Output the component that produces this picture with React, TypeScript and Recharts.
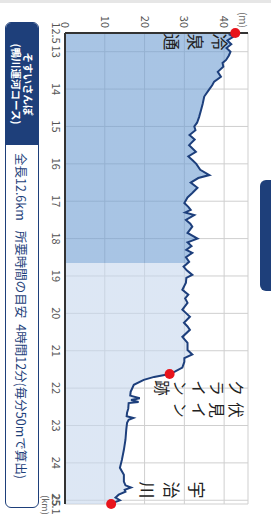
import React from 'react';
import { ComposedChart, Area, Line, XAxis, YAxis, CartesianGrid, ReferenceDot } from 'recharts';

// ---- data ----
const distanceKm = [
  12.5, 12.55, 12.6, 12.7, 12.8, 12.9, 13.0, 13.1, 13.22, 13.3, 13.4, 13.54, 13.67, 13.8, 13.9,
  14.0, 14.2, 14.4, 14.56, 14.75, 14.9, 15.0, 15.1, 15.23, 15.35, 15.5, 15.68, 15.8, 15.9, 16.0,
  16.16, 16.3, 16.38, 16.5, 16.64, 16.78, 16.9, 17.05, 17.15, 17.23, 17.3, 17.37, 17.5, 17.6, 17.68,
  17.85, 18.0, 18.1, 18.2, 18.3, 18.38, 18.5, 18.62, 18.75, 18.85, 18.97, 19.05, 19.18, 19.37, 19.5,
  19.6, 19.72, 19.9, 20.0, 20.09, 20.25, 20.35, 20.44, 20.63, 20.79, 20.98, 21.1, 21.2, 21.3, 21.45,
  21.56, 21.62, 21.7, 21.78, 21.91, 22.1, 22.2, 22.27, 22.32, 22.37, 22.4, 22.55, 22.66, 22.75, 22.8,
  22.85, 22.93, 23.11, 23.38, 23.65, 23.92, 24.13, 24.32, 24.5, 24.6, 24.66, 24.72, 24.77, 24.85, 24.93,
  25.0, 25.05, 25.1,
];
const elevationM = [
  42.8, 41.5, 42.3, 40.8, 41.8, 40.6, 41.6, 41.2, 40.5, 39.6, 39.8, 38.4, 39.2, 37.5, 37.0,
  36.3, 35.0, 34.6, 34.2, 33.7, 33.2, 32.5, 32.8, 31.3, 32.6, 31.2, 32.9, 31.0, 32.0, 33.0,
  34.0, 36.3, 33.5, 31.6, 33.3, 32.0, 30.8, 30.0, 31.0, 31.6, 30.2, 32.5, 30.4, 31.5, 32.0,
  30.8, 33.3, 30.8, 31.8, 30.5, 32.0, 30.4, 31.2, 29.8, 30.6, 32.0, 30.5, 30.4, 29.5, 31.0,
  30.2, 30.8, 29.5, 30.5, 31.4, 29.9, 30.8, 31.4, 29.5, 30.8, 30.8, 32.0, 30.0, 30.0, 29.5,
  27.6, 26.3, 22.4, 19.8, 17.3, 16.5, 16.4, 18.8, 16.6, 18.5, 16.0, 15.9, 15.6, 15.5, 17.2,
  16.0, 15.6, 15.4, 15.2, 14.8, 14.3, 13.8, 14.8, 14.8, 15.2, 16.6, 15.0, 15.2, 13.5, 12.7,
  13.8, 12.6, 11.6,
];
const kmTicks = [12.5, 13, 14, 15, 16, 17, 18, 19, 20, 21, 22, 23, 24, 25, 25.1];
const elevationTicks = [0, 10, 20, 30, 40];
const walkedUntilKm = 18.66;

const markerKm = [12.5, 21.62, 25.1];
const markerM = [42.8, 26.3, 11.6];
const markerNames = [['冷泉通'], ['伏見イン', 'クライン跡'], ['宇治川']];

const courseName = 'そすいさんぽ';
const courseSub = '(鴨川運河コース)';
const lengthText = '全長12.6km';
const timeText = '所要時間の目安';
const timeValue = '4時間12分(毎分50mで算出)';

// ---- layout / style (not data) ----
const W = 517;
const H = 271;
const NAVY = '#1e3f7a';
const FONT = '"Noto Sans CJK JP", "Noto Sans", sans-serif';

const labelLayout = [
  { dx: [9], dy: 15, step: 24, size: 17 },
  { dx: [36, 14], dy: -67, step: 18.5, size: 15.5 },
  { dx: [-14], dy: -86, step: 24.5, size: 17 },
];

const data = distanceKm.map((km, i) => ({ km, elev: elevationM[i] }));
const kmMin = distanceKm[0];
const kmMax = distanceKm[distanceKm.length - 1];
const splitFrac = (walkedUntilKm - kmMin) / (kmMax - kmMin);

function makeMarkerShape(idx: number) {
  return (props: any) => {
    const { cx, cy } = props;
    const lay = labelLayout[idx];
    const cols = markerNames[idx];
    return (
      <g>
        <circle cx={cx} cy={cy} r={5} fill="#e8141c" />
        {cols.map((col, ci) =>
          Array.from(col).map((ch, k) => (
            <text
              key={ci + '-' + k}
              x={cx + lay.dx[ci]}
              y={cy + lay.dy + k * lay.step}
              textAnchor="middle"
              dominantBaseline="central"
              fontSize={lay.size}
              fontFamily={FONT}
              fill="#222"
            >
              {ch}
            </text>
          ))
        )}
      </g>
    );
  };
}

export default function App() {
  return (
    <div
      style={{
        position: 'fixed',
        left: 0,
        top: 0,
        width: 271,
        height: 517,
        overflow: 'hidden',
        background: '#fff',
      }}
    >
      <div
        style={{
          position: 'absolute',
          left: 0,
          top: 0,
          width: 271,
          height: 3,
          background: '#e6e6e6',
        }}
      />
      <div
        style={{
          position: 'absolute',
          left: 0,
          top: 0,
          width: W,
          height: H,
          transformOrigin: '0 0',
          transform: 'translateX(271px) rotate(90deg)',
          fontFamily: FONT,
        }}
      >
        {/* right tab (top in unrotated frame) */}
        <div
          style={{
            position: 'absolute',
            left: 180,
            top: -12,
            width: 111,
            height: 22.5,
            background: NAVY,
            borderRadius: 6,
          }}
        />
        <ComposedChart
          width={W}
          height={H}
          data={data}
          margin={{ top: 23, right: 13, left: 13, bottom: 45 }}
          style={{ position: 'absolute', left: 0, top: 0 }}
        >
          <defs>
            <linearGradient id="profileFill" x1="0" y1="0" x2="1" y2="0">
              <stop offset={0} stopColor="#6e9dd2" />
              <stop offset={splitFrac} stopColor="#6e9dd2" />
              <stop offset={splitFrac} stopColor="#c6d7ed" />
              <stop offset={1} stopColor="#c6d7ed" />
            </linearGradient>
          </defs>
          <CartesianGrid stroke="#cfcfcf" />
          <XAxis
            dataKey="km"
            type="number"
            domain={[kmMin, kmMax]}
            ticks={kmTicks}
            interval={0}
            height={20}
            tickLine={false}
            tickSize={3}
            tickMargin={2}
            axisLine={{ stroke: '#333', strokeWidth: 2 }}
            tick={{ fontSize: 11, fill: '#555', fontFamily: FONT }}
          />
          <YAxis
            type="number"
            domain={[0, 46]}
            ticks={elevationTicks}
            interval={0}
            width={20}
            tickLine={false}
            tickSize={3}
            tickMargin={2}
            axisLine={{ stroke: '#333', strokeWidth: 2 }}
            tick={{ fontSize: 11, fill: '#555', fontFamily: FONT }}
          />
          <Area
            dataKey="elev"
            type="linear"
            stroke="none"
            fill="url(#profileFill)"
            fillOpacity={0.6}
            isAnimationActive={false}
          />
          <Line
            dataKey="elev"
            type="linear"
            stroke="#1d3f7c"
            strokeWidth={2}
            dot={false}
            isAnimationActive={false}
          />
          {markerKm.map((km, i) => (
            <ReferenceDot
              key={i}
              x={km}
              y={markerM[i]}
              r={5}
              ifOverflow="visible"
              shape={makeMarkerShape(i)}
            />
          ))}
        </ComposedChart>

        {/* unit labels */}
        <div
          style={{
            position: 'absolute',
            left: 8,
            top: 21,
            width: 24,
            textAlign: 'center',
            fontSize: 10,
            color: '#666',
            lineHeight: '14px',
          }}
        >
          (m)
        </div>
        <div
          style={{
            position: 'absolute',
            left: 492,
            top: 220,
            width: 26,
            textAlign: 'center',
            fontSize: 9,
            color: '#666',
            lineHeight: '12px',
          }}
        >
          (km)
        </div>

        {/* course info box */}
        <div
          style={{
            position: 'absolute',
            left: 22,
            top: 232,
            width: 486,
            height: 34,
            border: `1.5px solid ${NAVY}`,
            borderRadius: 6,
            boxSizing: 'border-box',
            display: 'flex',
            overflow: 'hidden',
            background: '#fff',
          }}
        >
          <div
            style={{
              width: 122,
              background: NAVY,
              color: '#fff',
              fontWeight: 700,
              fontSize: 10.5,
              lineHeight: '12px',
              display: 'flex',
              flexDirection: 'column',
              alignItems: 'center',
              justifyContent: 'center',
            }}
          >
            <div>{courseName}</div>
            <div>{courseSub}</div>
          </div>
          <div
            style={{
              display: 'flex',
              alignItems: 'center',
              paddingLeft: 8,
              color: NAVY,
              fontSize: 12.5,
              whiteSpace: 'nowrap',
            }}
          >
            <span>{lengthText}</span>
            <span style={{ marginLeft: 10 }}>{timeText}</span>
            <span style={{ marginLeft: 6 }}>{timeValue}</span>
          </div>
        </div>
      </div>
    </div>
  );
}
